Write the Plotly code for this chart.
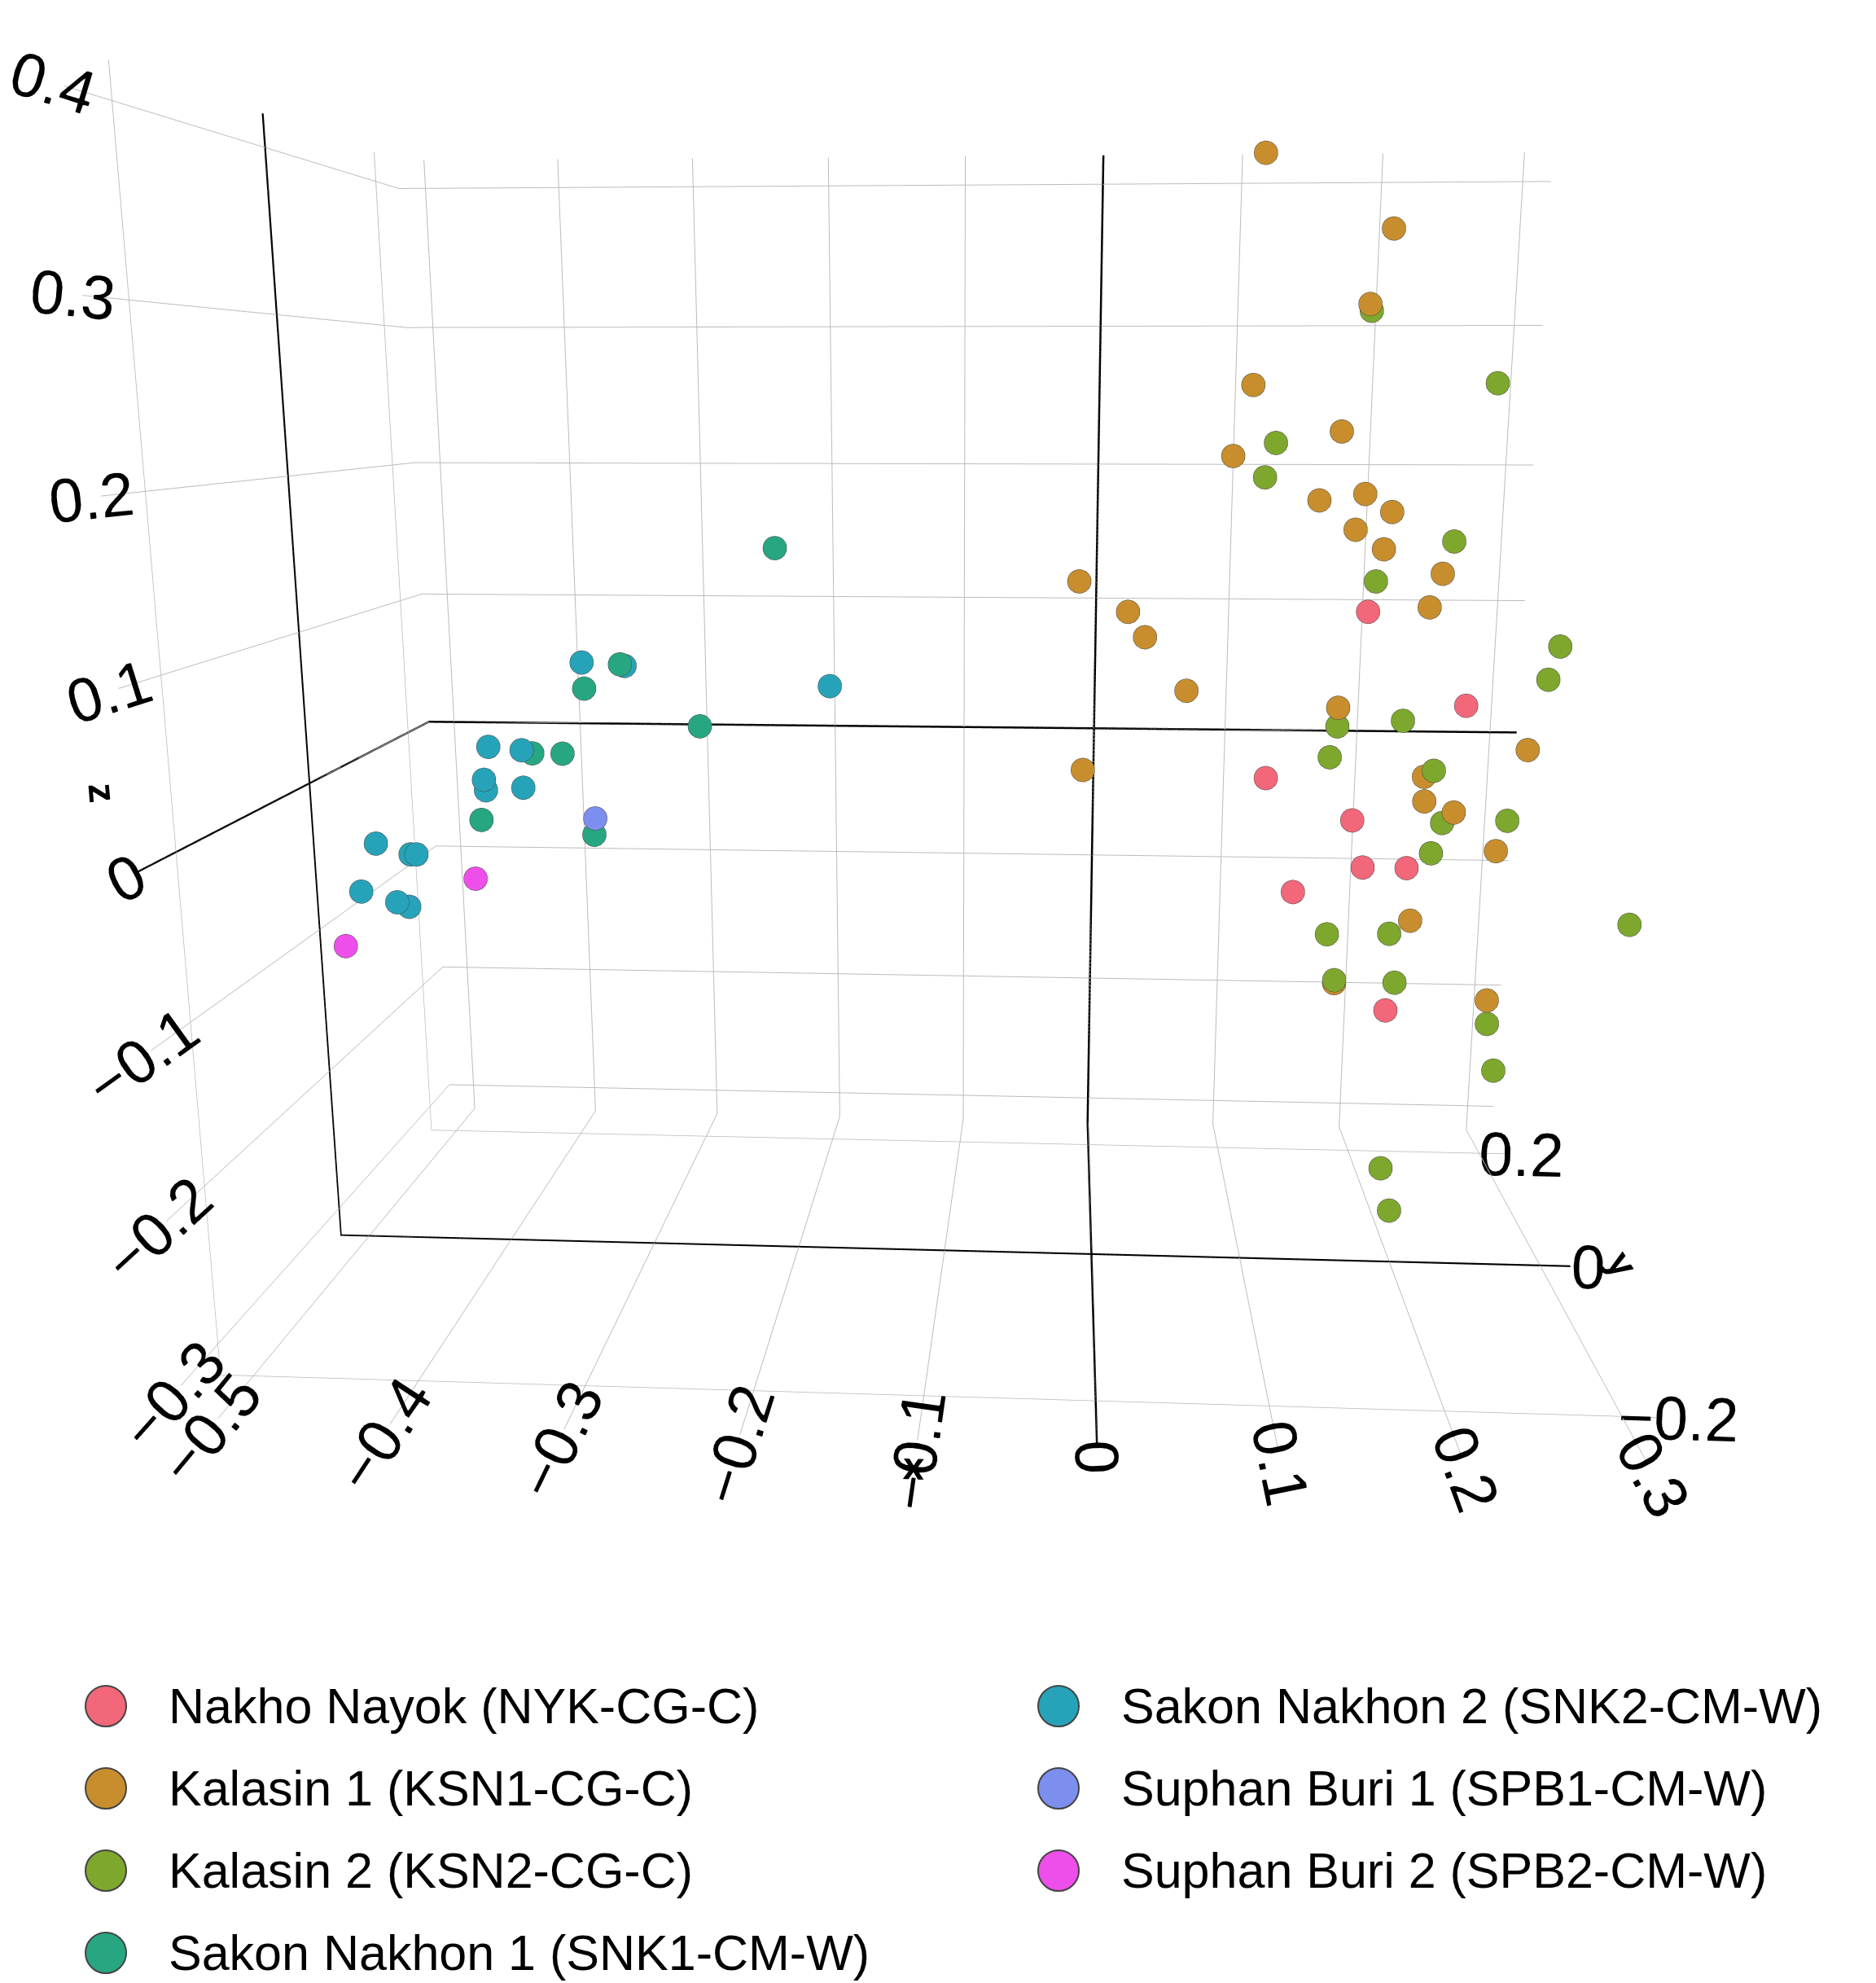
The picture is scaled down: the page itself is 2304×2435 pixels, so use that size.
import plotly.graph_objects as go

names = ["Nakho Nayok (NYK-CG-C)", "Kalasin 1 (KSN1-CG-C)", "Kalasin 2 (KSN2-CG-C)",
         "Sakon Nakhon 1 (SNK1-CM-W)", "Sakon Nakhon 2 (SNK2-CM-W)",
         "Suphan Buri 1 (SPB1-CM-W)", "Suphan Buri 2 (SPB2-CM-W)"]
colors = ["#F2677A", "#C88E2D", "#7DA82D", "#27A781", "#27A3B9", "#7C8FEF", "#EE4FEA"]

nyk_x = [0.166, 0.230, 0.106, 0.162, 0.170, 0.198, 0.126, 0.189]
nyk_z = [0.118, 0.059, 0.011, -0.016, -0.047, -0.047, -0.064, -0.143]
ksn1_x = [0.093, 0.171, 0.159, 0.090, 0.145, 0.079, 0.133, 0.161, 0.178, 0.156, 0.174, 0.211, 0.204,
          -0.015, 0.016, 0.027, 0.054, 0.150, -0.011, 0.206, 0.207, 0.226, 0.270, 0.254, 0.202, 0.155, 0.254]
ksn1_z = [0.393, 0.349, 0.305, 0.257, 0.229, 0.214, 0.187, 0.191, 0.180, 0.169, 0.157, 0.142, 0.121,
          0.136, 0.117, 0.101, 0.067, 0.057, 0.015, 0.013, -0.003, -0.010, 0.031, -0.035, -0.082, -0.125, -0.135]
ksn2_x = [0.160, 0.238, 0.105, 0.099, 0.217, 0.170, 0.286, 0.280, 0.191, 0.150, 0.146, 0.212, 0.219,
          0.260, 0.213, 0.283, 0.149, 0.189, 0.194, 0.155, 0.255, 0.261, 0.191, 0.198]
ksn2_z = [0.301, 0.258, 0.222, 0.201, 0.162, 0.137, 0.097, 0.076, 0.049, 0.045, 0.025, 0.017, -0.017,
          -0.015, -0.037, -0.029, -0.092, -0.091, -0.124, -0.123, -0.151, -0.183, -0.253, -0.283]
ksn2_y = [0.0] * 15 + [-0.2] + [0.0] * 8
snk1_x = [-0.208, -0.310, -0.334, -0.259, -0.370, -0.350, -0.406, -0.331]
snk1_z = [0.156, 0.081, 0.065, 0.041, 0.022, 0.022, -0.023, -0.032]
snk2_x = [-0.335, -0.307, -0.174, -0.399, -0.377, -0.403, -0.402, -0.377, -0.478, -0.455, -0.451, -0.490, -0.466, -0.458]
snk2_z = [0.082, 0.080, 0.068, 0.026, 0.024, 0.004, -0.003, -0.001, -0.040, -0.047, -0.047, -0.073, -0.080, -0.083]
spb1_x = [-0.330]
spb1_z = [-0.021]
spb2_x = [-0.412, -0.503]
spb2_z = [-0.063, -0.111]

data = [(nyk_x, None, nyk_z), (ksn1_x, None, ksn1_z), (ksn2_x, ksn2_y, ksn2_z),
        (snk1_x, None, snk1_z), (snk2_x, None, snk2_z), (spb1_x, None, spb1_z), (spb2_x, None, spb2_z)]

fig = go.Figure()
for name, col, (xs, ys, zs) in zip(names, colors, data):
    if ys is None:
        ys = [0.0] * len(xs)
    fig.add_trace(go.Scatter3d(x=xs, y=ys, z=zs, mode="markers", name=name, showlegend=False,
                               marker=dict(size=17, color=col, line=dict(color="#444", width=1))))

# manual legend (two columns)
W, H = 2304, 2435
for i, (name, col) in enumerate(zip(names, colors)):
    col_i = 0 if i < 4 else 1
    row = i if i < 4 else i - 4
    cx = 122 if col_i == 0 else 1292
    cy = 2087 + row * 101
    r = 25
    fig.add_shape(type="circle", xref="paper", yref="paper",
                  x0=(cx - r) / W, x1=(cx + r) / W, y0=1 - (cy + r) / H, y1=1 - (cy - r) / H,
                  fillcolor=col, line=dict(color="#444", width=2))
    fig.add_annotation(x=(cx + 75) / W, y=1 - cy / H, xref="paper", yref="paper",
                       text=name, showarrow=False, xanchor="left", yanchor="middle",
                       font=dict(size=61, family="Liberation Sans", color="black"))

tf = dict(size=30, family="Liberation Sans", color="black")
ttl = dict(size=48, family="Liberation Sans", color="black")
ax = dict(showbackground=False, gridcolor="#bbbbbb", gridwidth=2, zeroline=True,
          zerolinecolor="black", zerolinewidth=5, showline=False, tickfont=tf)
fig.update_layout(
    width=W, height=H, paper_bgcolor="white", showlegend=False,
    margin=dict(l=0, r=0, t=0, b=0),
    scene=dict(
        domain=dict(x=[0, 1], y=[0.17, 1]),
        xaxis=dict(ax, range=[-0.52, 0.32], dtick=0.1, title=dict(text="<b>x</b>", font=ttl)),
        yaxis=dict(ax, range=[-0.25, 0.25], dtick=0.2, title=dict(text="<b>y</b>", font=ttl)),
        zaxis=dict(ax, range=[-0.32, 0.42], dtick=0.1, title=dict(text="<b>z</b>", font=ttl)),
        aspectmode="manual", aspectratio=dict(x=1, y=0.6, z=0.88),
        camera=dict(eye=dict(x=0.09, y=-1.5, z=0.24), center=dict(x=0, y=0, z=-0.09),
                    up=dict(x=0, y=0, z=1), projection=dict(type="perspective")),
    ),
)
fig.write_html("out.html")
